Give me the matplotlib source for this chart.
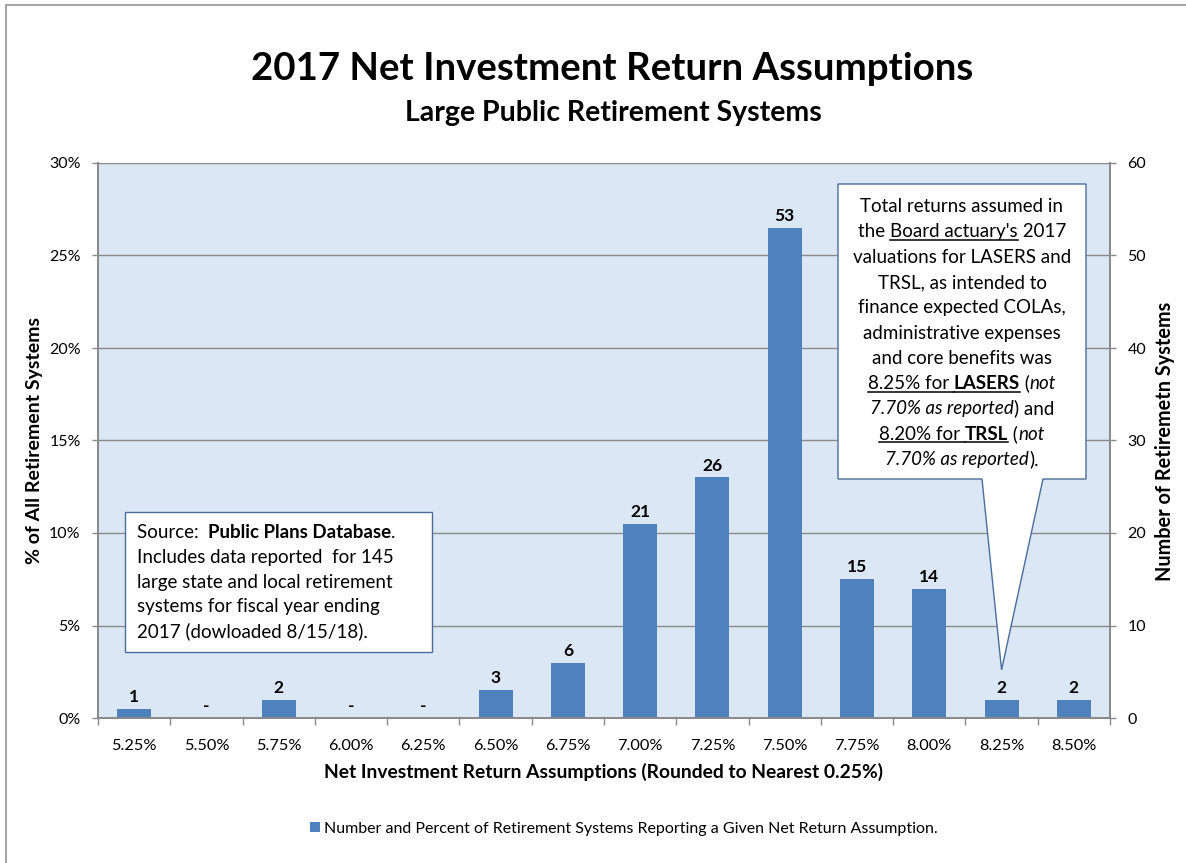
import matplotlib
matplotlib.use("Agg")
import matplotlib.pyplot as plt
from matplotlib.patches import Polygon, Rectangle, Patch
from matplotlib.lines import Line2D
from matplotlib.transforms import IdentityTransform
from matplotlib.ticker import FuncFormatter, FixedLocator

# ---- data ----
rate_labels = ["5.25%", "5.50%", "5.75%", "6.00%", "6.25%", "6.50%", "6.75%",
               "7.00%", "7.25%", "7.50%", "7.75%", "8.00%", "8.25%", "8.50%"]
system_counts = [1, 0, 2, 0, 0, 3, 6, 21, 26, 53, 15, 14, 2, 2]
pct_ticks = [0, 0.05, 0.10, 0.15, 0.20, 0.25, 0.30]
count_ticks = [0, 10, 20, 30, 40, 50, 60]
lasers_index = rate_labels.index("8.25%")

# ---- style ----
FONT = "Lato"
BAR_COLOR = "#4f81bd"
GRID_COLOR = "#8a8a8a"
PLOT_BG = "#dbe7f4"
BOX_EDGE = "#4a6d9c"

W, H = 1186, 863
plt.rcParams["font.family"] = [FONT, "DejaVu Sans"]
fig = plt.figure(figsize=(W / 100, H / 100), dpi=100)
fig.patch.set_facecolor("white")


def fx(x):
    return x / W


def fy(y):
    return 1 - y / H


# outer chart frame
fig.add_artist(Line2D([fx(6), fx(6)], [fy(5), 0], color="#a6a6a6", lw=1.5))
fig.add_artist(Line2D([fx(6), 1], [fy(5), fy(5)], color="#a6a6a6", lw=1.5))

ax = fig.add_axes([fx(98), fy(718), (1110 - 98) / W, (718 - 163) / H])
ax.set_facecolor(PLOT_BG)
ax2 = ax.twinx()

x = list(range(len(rate_labels)))
ax.set_xlim(-0.5, len(rate_labels) - 0.5)
ax.set_ylim(pct_ticks[0], pct_ticks[-1])
ax2.set_ylim(count_ticks[0], count_ticks[-1])

# gridlines
ax.yaxis.set_major_locator(FixedLocator(pct_ticks))
ax.yaxis.set_major_formatter(FuncFormatter(lambda v, p: f"{v * 100:.0f}%"))
ax.grid(axis="y", color=GRID_COLOR, lw=1.0)
ax.set_axisbelow(True)
ax2.yaxis.set_major_locator(FixedLocator(count_ticks))

# bars on the count axis
ax2.bar(x, system_counts, width=0.47, color=BAR_COLOR, zorder=2)
for xi, c in zip(x, system_counts):
    ax2.annotate(str(c) if c > 0 else "-", (xi, c), xytext=(0, 5),
                 textcoords="offset points", ha="center", va="baseline",
                 fontsize=12.5, fontweight="bold", color="black")

# ticks and spines
ax.set_xticks(x)
ax.set_xticklabels(rate_labels)
ax.set_xticks([i - 0.5 for i in range(len(rate_labels) + 1)], minor=True)
ax.tick_params(axis="x", which="major", length=0, pad=15, labelsize=11.8)
ax.tick_params(axis="x", which="minor", length=5, width=1, color=GRID_COLOR,
               direction="out")
ax.tick_params(axis="y", length=4.5, width=1, color=GRID_COLOR, pad=8,
               labelsize=11.5)
ax2.tick_params(axis="y", length=4.5, width=1, color=GRID_COLOR, pad=8,
                labelsize=11.5)
for a in (ax, ax2):
    for side, sp in a.spines.items():
        sp.set_color(GRID_COLOR)
        sp.set_linewidth(1.3)
    a.spines["top"].set_visible(False)

# titles and axis labels
fig.text(fx(612), fy(69), "2017 Net Investment Return Assumptions",
         ha="center", va="center", fontsize=27.6, fontweight="bold")
fig.text(fx(613), fy(113), "Large Public Retirement Systems",
         ha="center", va="center", fontsize=20.5, fontweight="bold")
fig.text(fx(35), fy(440), "% of All Retirement Systems", rotation=90,
         ha="center", va="center", fontsize=14, fontweight="bold")
fig.text(fx(1165), fy(441), "Number of Retiremetn Systems", rotation=90,
         ha="center", va="center", fontsize=14.3, fontweight="bold")
fig.text(fx(603), fy(772),
         "Net Investment Return Assumptions (Rounded to Nearest 0.25%)",
         ha="center", va="center", fontsize=13.9, fontweight="bold")

# legend
fig.legend(handles=[Patch(facecolor=BAR_COLOR, edgecolor="none",
                          label="Number and Percent of Retirement Systems "
                                "Reporting a Given Net Return Assumption.")],
           loc="center", bbox_to_anchor=(fx(624), fy(829)), frameon=False,
           fontsize=11.5, handlelength=0.6, handleheight=0.6,
           handletextpad=0.3)

renderer = fig.canvas.get_renderer()


def text_width(s, size, weight, style):
    t = fig.text(0, 0, s + "|", fontsize=size, fontweight=weight,
                 fontstyle=style, transform=IdentityTransform())
    bar = fig.text(0, 0, "|", fontsize=size, fontweight=weight,
                   fontstyle=style, transform=IdentityTransform())
    w = t.get_window_extent(renderer).width - bar.get_window_extent(renderer).width
    t.remove()
    bar.remove()
    return w


def rich_lines(lines, x, y0, dy, size, ha="center"):
    """Draw lines made of (text, weight, style, underline) pieces."""
    for i, pieces in enumerate(lines):
        yb = H - (y0 + i * dy)
        widths = [text_width(s, size, w, st) for s, w, st, _ in pieces]
        cur = x - sum(widths) / 2 if ha == "center" else x
        for (s, w, st, ul), wd in zip(pieces, widths):
            fig.text(cur, yb, s, transform=IdentityTransform(), fontsize=size,
                     fontweight=w, fontstyle=st, va="baseline", ha="left",
                     zorder=5)
            if ul:
                fig.add_artist(Line2D([cur, cur + wd], [yb - 2.5, yb - 2.5],
                                      transform=IdentityTransform(),
                                      color="black", lw=1.1, zorder=5))
            cur += wd


N, B, I = "normal", "bold", "italic"

# source note box
fig.add_artist(Rectangle((125, H - 652), 307, 140, transform=IdentityTransform(),
                         facecolor="white", edgecolor=BOX_EDGE, lw=1.0, zorder=4))
source_lines = [
    [("Source:  ", N, N, False), ("Public Plans Database", B, N, False),
     (".", N, N, False)],
    [("Includes data reported  for 145", N, N, False)],
    [("large state and local retirement", N, N, False)],
    [("systems for fiscal year ending", N, N, False)],
    [("2017 (dowloaded 8/15/18).", N, N, False)],
]
rich_lines(source_lines, 137, 538, 24.75, 13.5, ha="left")

# callout pointing to the 8.25% bar
tip = ax2.transData.transform((lasers_index, system_counts[lasers_index] + 3.2))
bx0, bx1, by0, by1 = 838, 1086, 184, 479
callout = [(bx0, H - by0), (bx1, H - by0), (bx1, H - by1), (1043, H - by1),
           (tip[0], tip[1]), (982, H - by1), (bx0, H - by1)]
fig.add_artist(Polygon(callout, closed=True, transform=IdentityTransform(),
                       facecolor="white", edgecolor=BOX_EDGE, lw=1.0, zorder=4))
callout_lines = [
    [("Total returns assumed in", N, N, False)],
    [("the ", N, N, False), ("Board actuary's", N, N, True), (" 2017", N, N, False)],
    [("valuations for LASERS and", N, N, False)],
    [("TRSL, as intended to", N, N, False)],
    [("finance expected COLAs,", N, N, False)],
    [("administrative expenses", N, N, False)],
    [("and core benefits was", N, N, False)],
    [("8.25% for ", N, N, True), ("LASERS", B, N, True), (" (", N, N, False),
     ("not", N, I, False)],
    [("7.70% as reported", N, I, False), (") and", N, N, False)],
    [("8.20% for ", N, N, True), ("TRSL", B, N, True), (" (", N, N, False),
     ("not", N, I, False)],
    [("7.70% as reported", N, I, False), (").", N, N, False)],
]
rich_lines(callout_lines, 962, 212, 25.3, 13.5, ha="center")

fig.savefig("out.png", dpi=100, facecolor="white")
